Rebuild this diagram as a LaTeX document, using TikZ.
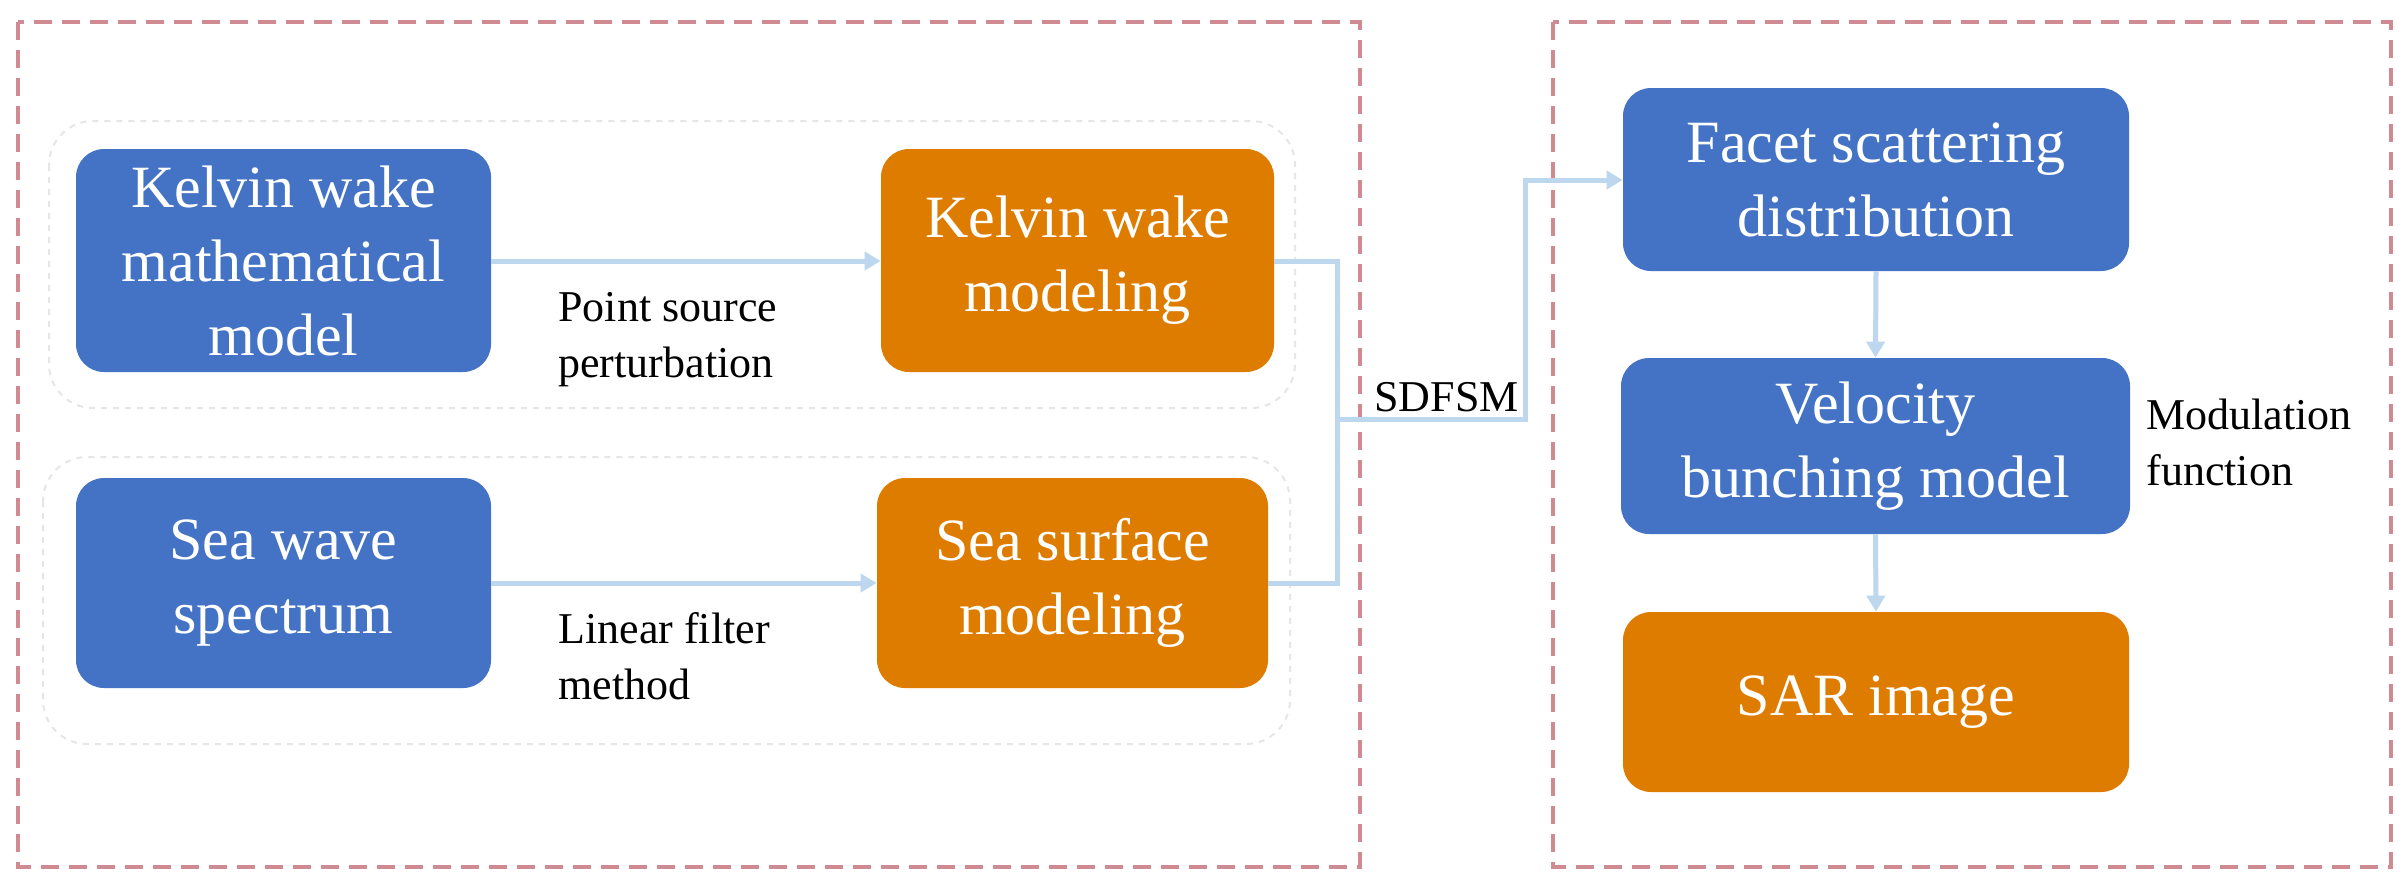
\documentclass[tikz,border=0pt]{standalone}
\usepackage{fontspec}
\setmainfont{Liberation Serif}
\usetikzlibrary{arrows.meta}
\definecolor{bbox}{HTML}{4472C4}
\definecolor{obox}{HTML}{DE7C00}
\definecolor{conn}{HTML}{BDD7EE}
\definecolor{reddash}{HTML}{CF8A92}
\definecolor{graydash}{HTML}{E4E6E8}
\tikzset{
  x=0.5pt,y=-0.5pt,
  blk/.style={rounded corners=14pt,draw=none,text=white,align=center,font=\fontsize{30}{37}\selectfont,inner sep=0pt},
  bluebox/.style={blk,fill=bbox},
  orangebox/.style={blk,fill=obox},
  lab/.style={align=left,anchor=north west,font=\fontsize{22}{28}\selectfont,inner sep=0pt},
  conline/.style={draw=conn,line width=2.5pt},
  conarrow/.style={conline,-{Triangle[length=8pt,width=9pt]}},
  outer/.style={draw=reddash,line width=2.2pt,dash pattern=on 9pt off 5pt},
  group/.style={draw=graydash,line width=1pt,dashed,rounded corners=22pt},
}
\newcommand{\boxat}[6]{\node[#1,minimum width={(#4-#2)*0.5pt},minimum height={(#5-#3)*0.5pt}] (#6) at ({(#2+#4)/2},{(#3+#5)/2})}
\begin{document}
\begin{tikzpicture}
\useasboundingbox[fill=white] (0,0) rectangle (2408,890);
\draw[outer] (18,22) rectangle (1360,867);
\draw[outer] (1553,22) rectangle (2391,867);
\draw[group] (49,121) rectangle (1295,408);
\draw[group] (43,457) rectangle (1290,744);
\boxat{bluebox}{76}{149}{491}{372}{km} {Kelvin wake\\mathematical\\model};
\boxat{orangebox}{881}{149}{1274}{372}{kw} {Kelvin wake\\modeling};
\boxat{bluebox}{76}{478}{491}{688}{sw} {Sea wave\\spectrum};
\boxat{orangebox}{877}{478}{1268}{688}{ss} {Sea surface\\modeling};
\boxat{bluebox}{1623}{88}{2129}{271}{fs} {Facet scattering\\distribution};
\boxat{bluebox}{1621}{358}{2130}{534}{vb} {Velocity\\bunching model};
\boxat{orangebox}{1623}{612}{2129}{792}{sar} {SAR image};
\node[lab] (l1) at (558,292) {Point source\\perturbation};
\node[lab] (l2) at (558,612) {Linear filter\\method};
\node[lab,anchor=south west] (l3) at (1374,412) {SDFSM};
\node[lab] (l4) at (2146,399) {Modulation\\function};
\draw[conarrow] (km.east|-0,261) -- (kw.west|-0,261);
\draw[conarrow] (sw.east|-0,583) -- (ss.west|-0,583);
\coordinate (mx) at (1337,419);
\draw[conline] (kw.east|-0,261) -| (mx);
\draw[conline] (ss.east|-0,583) -| (mx);
\draw[conarrow] (mx) -- (1525,419) |- (fs.west|-0,180);
\draw[conarrow] (fs.south) -- (vb.north);
\draw[conarrow] (vb.south) -- (sar.north);
\end{tikzpicture}
\end{document}
